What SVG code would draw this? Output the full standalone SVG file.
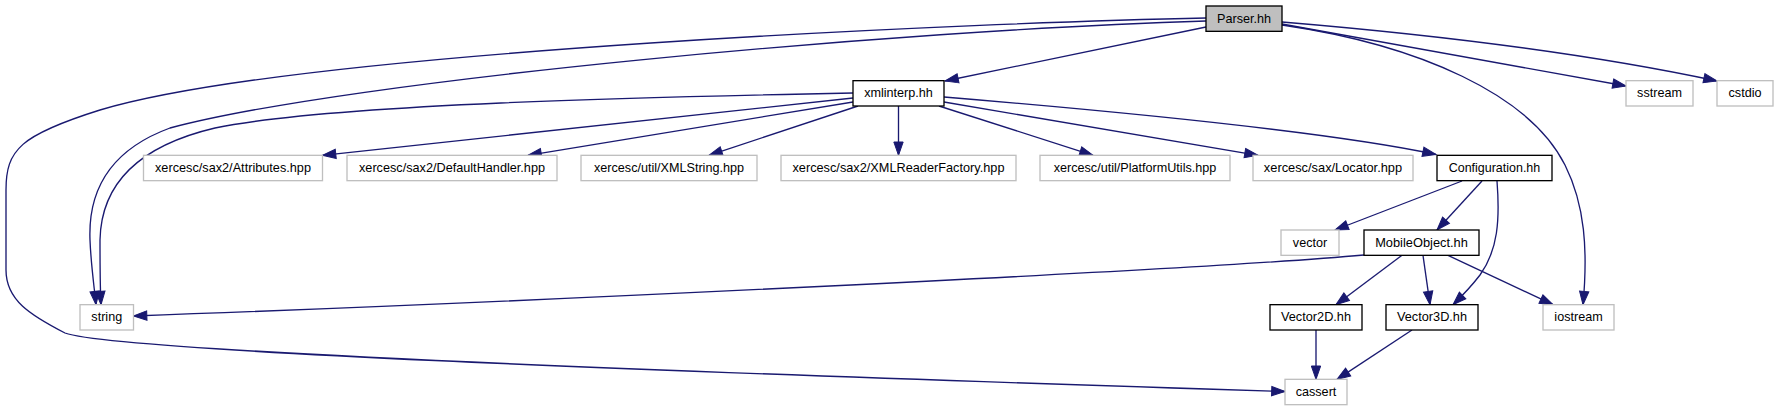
<svg xmlns="http://www.w3.org/2000/svg" width="1779" height="411" viewBox="0 0 1779 411">
<style>
.n rect{fill:#ffffff;stroke:#000000;stroke-width:1.33}
.n.g rect{stroke:#bfbfbf}
.n.root rect{fill:#bfbfbf}
.n text{font-family:"Liberation Sans",Helvetica,Arial,sans-serif;font-size:13.5px;text-anchor:middle;fill:#000000}
#edges path{fill:none;stroke:#191970;stroke-width:1.33;marker-end:url(#arr)}
</style>
<defs>
<marker id="arr" markerUnits="userSpaceOnUse" markerWidth="16" markerHeight="12" viewBox="0 -6 14 12" refX="13.33" refY="0" orient="auto">
<path d="M0,-4.67 L13.33,0 L0,4.67 z" fill="#191970" stroke="#191970" stroke-width="1"/>
</marker>
</defs>
<rect x="0" y="0" width="1779" height="411" fill="#ffffff"/>
<g id="edges">
<path d="M1206,27 L945,81"/>
<path d="M1282,24 L1626,86"/>
<path d="M1282,22 C1450,36 1600,56 1717,81"/>
<path d="M1282,25 C1420,45 1530,95 1565,165 C1585,205 1588,250 1583,304.67"/>
<path d="M1206,21 C900,30 350,80 170,128 C110,150 88,190 90,240 C91,265 94,285 96,304.67"/>
<path d="M1206,18 C1000,22 300,50 100,110 C20,135 6,150 6,190 L6,270 C6,300 30,315 65,333 C110,350 600,370 1285,391.5"/>
<path d="M853,93 C650,97 330,104 215,128 C130,148 101,190 100,240 C100,265 100,285 101,304.67"/>
<path d="M853,98 L322.5,155.33"/>
<path d="M853,102 L528,155.33"/>
<path d="M858,106 L709,155.33"/>
<path d="M898.5,106 L898.5,155.33"/>
<path d="M939,106 L1093,155.33"/>
<path d="M944,102 L1258,155.33"/>
<path d="M944,97 C1100,110 1330,132 1436,154.5"/>
<path d="M1462,181 L1335,230"/>
<path d="M1482,181 L1437,230"/>
<path d="M1497,181 C1500,220 1498,250 1480,275 C1470,288 1462,296 1453,304.67"/>
<path d="M1364,255 C1200,270 500,303 133.5,316"/>
<path d="M1402,255.33 L1336,304.67"/>
<path d="M1423,255.33 L1430,304.67"/>
<path d="M1448,255.33 L1553,304.67"/>
<path d="M1316,330 L1316,379.33"/>
<path d="M1412,330 L1337,379.33"/>
</g>
<g id="node-parser" class="n root"><rect x="1206" y="6" width="76" height="25.33"/><text x="1244" y="22.7" textLength="54" lengthAdjust="spacingAndGlyphs">Parser.hh</text></g>
<g id="node-xmlinterp" class="n"><rect x="853" y="80.67" width="91" height="25.33"/><text x="898.5" y="97.3" textLength="68.7" lengthAdjust="spacingAndGlyphs">xmlinterp.hh</text></g>
<g id="node-sstream" class="n g"><rect x="1626" y="80.67" width="67" height="25.33"/><text x="1659.5" y="97.3" textLength="44.8" lengthAdjust="spacingAndGlyphs">sstream</text></g>
<g id="node-cstdio" class="n g"><rect x="1717" y="80.67" width="56" height="25.33"/><text x="1745" y="97.3" textLength="33" lengthAdjust="spacingAndGlyphs">cstdio</text></g>
<g id="node-attributes" class="n g"><rect x="143.5" y="155.33" width="179" height="25.33"/><text x="233" y="172" textLength="156" lengthAdjust="spacingAndGlyphs">xercesc/sax2/Attributes.hpp</text></g>
<g id="node-defaulthandler" class="n g"><rect x="347" y="155.33" width="210" height="25.33"/><text x="452" y="172" textLength="186" lengthAdjust="spacingAndGlyphs">xercesc/sax2/DefaultHandler.hpp</text></g>
<g id="node-xmlstring" class="n g"><rect x="581" y="155.33" width="176" height="25.33"/><text x="669" y="172" textLength="150" lengthAdjust="spacingAndGlyphs">xercesc/util/XMLString.hpp</text></g>
<g id="node-xmlreaderfactory" class="n g"><rect x="781" y="155.33" width="235" height="25.33"/><text x="898.5" y="172" textLength="212" lengthAdjust="spacingAndGlyphs">xercesc/sax2/XMLReaderFactory.hpp</text></g>
<g id="node-platformutils" class="n g"><rect x="1040" y="155.33" width="190" height="25.33"/><text x="1135" y="172" textLength="162.6" lengthAdjust="spacingAndGlyphs">xercesc/util/PlatformUtils.hpp</text></g>
<g id="node-locator" class="n g"><rect x="1253" y="155.33" width="160" height="25.33"/><text x="1333" y="172" textLength="138.3" lengthAdjust="spacingAndGlyphs">xercesc/sax/Locator.hpp</text></g>
<g id="node-configuration" class="n"><rect x="1437" y="155.33" width="115" height="25.33"/><text x="1494.5" y="172" textLength="91.5" lengthAdjust="spacingAndGlyphs">Configuration.hh</text></g>
<g id="node-vector" class="n g"><rect x="1281" y="230" width="58" height="25.33"/><text x="1310" y="246.7" textLength="34.3" lengthAdjust="spacingAndGlyphs">vector</text></g>
<g id="node-mobileobject" class="n"><rect x="1364" y="230" width="115" height="25.33"/><text x="1421.5" y="246.7" textLength="92.7" lengthAdjust="spacingAndGlyphs">MobileObject.hh</text></g>
<g id="node-string" class="n g"><rect x="80" y="304.67" width="53.5" height="25.33"/><text x="106.75" y="321.3" textLength="30.8" lengthAdjust="spacingAndGlyphs">string</text></g>
<g id="node-vector2d" class="n"><rect x="1270" y="304.67" width="92" height="25.33"/><text x="1316" y="321.3" textLength="70" lengthAdjust="spacingAndGlyphs">Vector2D.hh</text></g>
<g id="node-vector3d" class="n"><rect x="1386" y="304.67" width="92" height="25.33"/><text x="1432" y="321.3" textLength="70" lengthAdjust="spacingAndGlyphs">Vector3D.hh</text></g>
<g id="node-iostream" class="n g"><rect x="1543" y="304.67" width="71" height="25.33"/><text x="1578.5" y="321.3" textLength="48.3" lengthAdjust="spacingAndGlyphs">iostream</text></g>
<g id="node-cassert" class="n g"><rect x="1285" y="379.33" width="62" height="25.33"/><text x="1316" y="396" textLength="40.7" lengthAdjust="spacingAndGlyphs">cassert</text></g>
</svg>
